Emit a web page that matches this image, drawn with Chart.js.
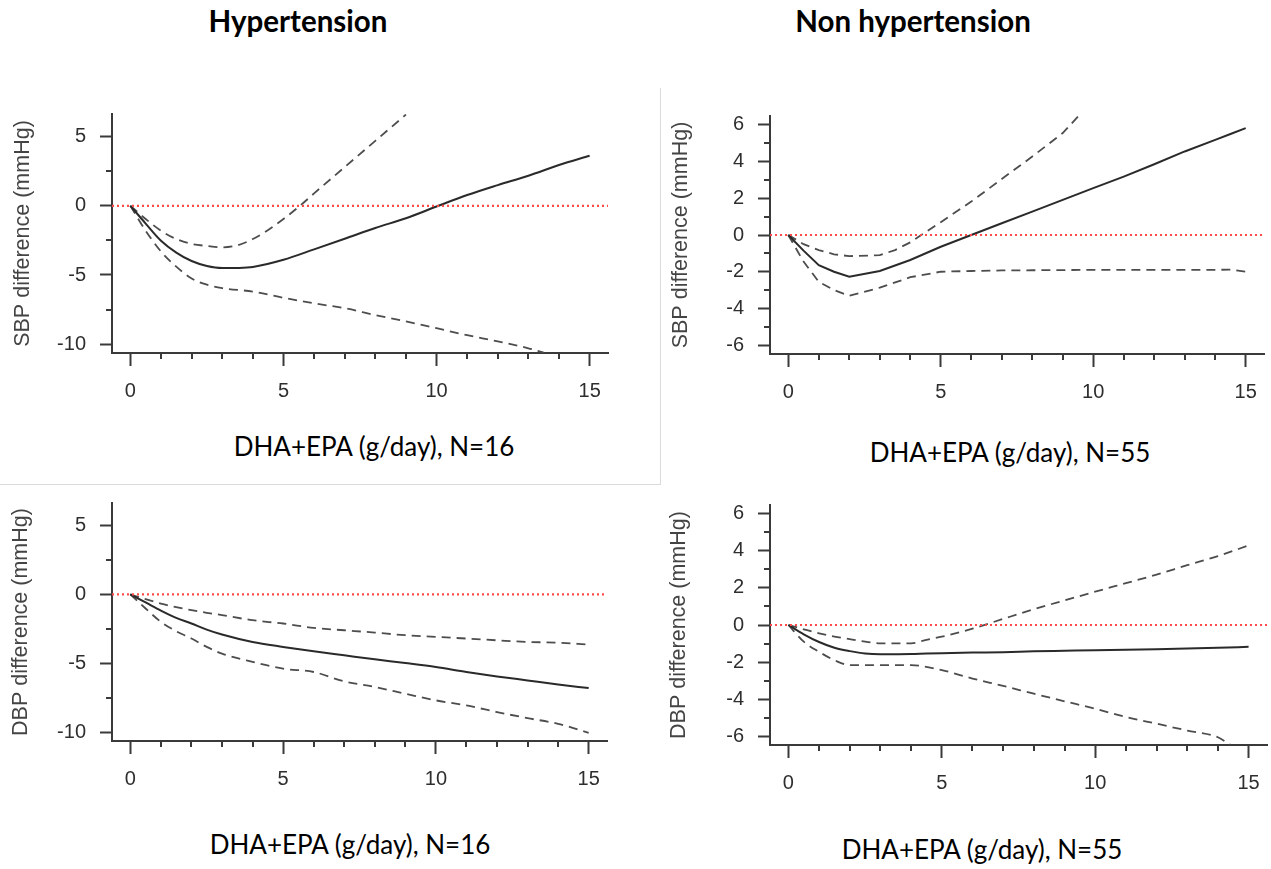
<!DOCTYPE html>
<html>
<head>
<meta charset="utf-8">
<title>DHA+EPA dose and blood pressure difference</title>
<script src="https://cdn.jsdelivr.net/npm/chart.js@4.4.1/dist/chart.umd.min.js"></script>
<style>
  html, body { margin: 0; padding: 0; background: #ffffff; }
  #figure { position: relative; width: 1271px; height: 869px; overflow: hidden; background: #ffffff; }
  .panel { position: absolute; }
  .frame { position: absolute; left: 0; top: 88px; width: 661px; height: 397px; box-sizing: border-box;
           border-right: 1px solid #dadada; border-bottom: 1px solid #dadada; }
  .group-title { position: absolute; width: 400px; text-align: center; white-space: nowrap;
                 font-family: Lato, "Open Sans", sans-serif; font-weight: 700; font-size: 29.5px;
                 line-height: 1.2; color: #000; }
  .dose-title { position: absolute; width: 400px; text-align: center; white-space: nowrap;
                font-family: Lato, "Open Sans", sans-serif; font-weight: 400; font-size: 26px;
                line-height: 1.2; color: #000; }
</style>
</head>
<body>
<div id="figure">
  <div class="frame"></div>

  <div class="group-title" style="left:98px; top:3px;">Hypertension</div>
  <div class="group-title" style="left:713px; top:3px;">Non hypertension</div>

  <div class="panel" style="left:0px; top:100px;"><canvas id="sbpHyp" width="640" height="300"></canvas></div>
  <div class="panel" style="left:660px; top:100px;"><canvas id="sbpNon" width="611" height="300"></canvas></div>
  <div class="panel" style="left:0px; top:490px;"><canvas id="dbpHyp" width="640" height="300"></canvas></div>
  <div class="panel" style="left:660px; top:490px;"><canvas id="dbpNon" width="611" height="300"></canvas></div>

  <div class="dose-title" style="left:174px; top:431px;">DHA+EPA (g/day), N=16</div>
  <div class="dose-title" style="left:810px; top:437px;">DHA+EPA (g/day), N=55</div>
  <div class="dose-title" style="left:150px; top:829px;">DHA+EPA (g/day), N=16</div>
  <div class="dose-title" style="left:782px; top:834px;">DHA+EPA (g/day), N=55</div>
</div>

<script>
// ---- Axis settings -------------------------------------------------------
const doseLimits = [-0.6, 15.6];          // g/day
const doseTickStep = 1;
const doseLabelStep = 5;
const hypBpLimits = [-10.64, 6.64];       // mmHg, hypertension panels
const hypBpTickStep = 2.5;
const hypBpLabelStep = 5;
const nonBpLimits = [-6.48, 6.48];        // mmHg, non hypertension panels
const nonBpTickStep = 1;
const nonBpLabelStep = 2;
const referenceLevel = 0;                 // no difference

// ---- SBP, hypertension (N=16) --------------------------------------------
const sbpHypDose  = [0, 0.5, 1, 1.5, 2, 2.5, 3, 3.5, 4, 5, 6, 7, 8, 9, 10, 11, 12, 13, 14, 15];
const sbpHypFit   = [0, -1.28, -2.52, -3.38, -3.99, -4.35, -4.5, -4.49, -4.42, -3.9, -3.15, -2.38, -1.6, -0.9, -0.05, 0.78, 1.5, 2.18, 2.95, 3.62];
const sbpHypUpperDose = [0, 0.5, 1, 1.5, 2, 2.5, 3, 3.5, 4, 4.5, 5, 5.5, 6, 7, 8, 9];
const sbpHypUpper     = [0, -0.95, -1.8, -2.4, -2.75, -2.9, -3.0, -2.85, -2.4, -1.75, -0.95, -0.07, 0.9, 2.8, 4.7, 6.6];
const sbpHypLowerDose = [0, 0.5, 1, 1.5, 2, 2.5, 3, 4, 5, 6, 7, 8, 9, 10, 11, 12, 13, 13.5];
const sbpHypLower     = [0, -1.8, -3.3, -4.4, -5.25, -5.7, -5.95, -6.2, -6.65, -7.05, -7.4, -7.9, -8.35, -8.85, -9.35, -9.8, -10.3, -10.62];

// ---- SBP, non hypertension (N=55) ----------------------------------------
const sbpNonDose  = [0, 0.5, 1, 1.5, 2, 3, 4, 5, 6, 7, 8, 9, 10, 11, 12, 13, 14, 14.5, 15];
const sbpNonFit   = [0, -0.85, -1.64, -2.0, -2.27, -1.96, -1.36, -0.64, 0.0, 0.64, 1.27, 1.91, 2.55, 3.18, 3.85, 4.55, 5.18, 5.5, 5.82];
const sbpNonLower = [0, -1.45, -2.55, -3.0, -3.31, -2.87, -2.3, -2.0, -1.96, -1.93, -1.92, -1.91, -1.9, -1.9, -1.9, -1.9, -1.9, -1.88, -2.0];
const sbpNonUpperDose = [0, 0.5, 1, 1.5, 2, 3, 3.5, 4, 5, 6, 7, 8, 9, 9.5];
const sbpNonUpper     = [0, -0.5, -0.82, -1.05, -1.15, -1.1, -0.82, -0.4, 0.7, 1.82, 3.05, 4.27, 5.55, 6.45];

// ---- DBP, hypertension (N=16) --------------------------------------------
const dbpHypDose  = [0, 0.5, 1, 1.5, 2, 2.5, 3, 4, 5, 6, 7, 8, 9, 10, 11, 12, 13, 14, 15];
const dbpHypFit   = [0, -0.58, -1.17, -1.7, -2.11, -2.55, -2.91, -3.45, -3.81, -4.13, -4.42, -4.71, -4.98, -5.27, -5.63, -5.95, -6.24, -6.53, -6.8];
const dbpHypUpper = [0, -0.34, -0.66, -0.92, -1.14, -1.33, -1.5, -1.87, -2.11, -2.43, -2.6, -2.77, -2.96, -3.08, -3.2, -3.33, -3.45, -3.5, -3.64];
const dbpHypLower = [0, -1.02, -1.99, -2.67, -3.2, -3.81, -4.3, -4.9, -5.39, -5.63, -6.31, -6.72, -7.21, -7.69, -8.06, -8.54, -8.98, -9.39, -10.05];

// ---- DBP, non hypertension (N=55) ----------------------------------------
const dbpNonDose  = [0, 0.5, 1, 1.5, 2, 2.5, 3, 4, 4.5, 5, 6, 7, 8, 9, 10, 11, 12, 13, 14, 15];
const dbpNonFit   = [0, -0.5, -0.92, -1.23, -1.41, -1.54, -1.58, -1.57, -1.54, -1.52, -1.49, -1.47, -1.42, -1.39, -1.36, -1.34, -1.31, -1.27, -1.23, -1.18];
const dbpNonUpper = [0, -0.23, -0.45, -0.63, -0.76, -0.9, -0.99, -0.99, -0.8, -0.63, -0.2, 0.33, 0.85, 1.33, 1.8, 2.26, 2.72, 3.23, 3.72, 4.3];
const dbpNonLowerDose = [0, 0.5, 1, 1.5, 2, 3, 4, 5, 6, 7, 8, 9, 10, 11, 12, 13, 14, 14.4];
const dbpNonLower     = [0, -0.9, -1.45, -1.9, -2.17, -2.17, -2.17, -2.44, -2.89, -3.29, -3.71, -4.12, -4.52, -4.97, -5.33, -5.7, -6.06, -6.47];

// ---- Styling ---------------------------------------------------------------
const axisColor = '#3a3a3a';
const labelColor = '#2e2e2e';
const fitColor = '#2a2a2a';
const ciColor = '#4d4d4d';
const refColor = '#ff4a4a';
const tickFont = { family: '"Liberation Sans", Arial, sans-serif', size: 20 };
const axisTitleFont = { family: '"Liberation Sans", Arial, sans-serif', size: 21.5 };

const isMultiple = (v, step) => Math.abs(v / step - Math.round(v / step)) < 1e-6;
const pairs = (xs, ys) => xs.map((x, i) => ({ x: x, y: ys[i] }));

// Short unlabelled ticks between the labelled ones
const minorTicks = {
  id: 'minorTicks',
  afterDraw(chart, args, opts) {
    const ctx = chart.ctx;
    ctx.save();
    ctx.strokeStyle = axisColor;
    ctx.lineWidth = 2;
    ctx.beginPath();
    const xs = chart.scales.x;
    xs.ticks.forEach(t => {
      if (!isMultiple(t.value, opts.xLabelStep)) {
        const px = Math.round(xs.getPixelForValue(t.value));
        ctx.moveTo(px, xs.top);
        ctx.lineTo(px, xs.top + opts.length);
      }
    });
    const ys = chart.scales.y;
    ys.ticks.forEach(t => {
      if (!isMultiple(t.value, opts.yLabelStep)) {
        const py = Math.round(ys.getPixelForValue(t.value));
        ctx.moveTo(ys.right - opts.length, py);
        ctx.lineTo(ys.right, py);
      }
    });
    ctx.stroke();
    ctx.restore();
  }
};

function drawPanel(id, p) {
  const canvas = document.getElementById(id);
  const curve = p.smooth ? { cubicInterpolationMode: 'monotone' } : { tension: 0 };
  return new Chart(canvas, {
    type: 'line',
    data: {
      datasets: [
        { data: [{ x: doseLimits[0], y: referenceLevel }, { x: doseLimits[1], y: referenceLevel }],
          borderColor: refColor, borderWidth: 2.2, borderDash: [2, 3], pointRadius: 0, tension: 0 },
        Object.assign({ data: pairs(p.fitDose, p.fit), borderColor: fitColor, borderWidth: 2, pointRadius: 0 }, curve),
        Object.assign({ data: pairs(p.upperDose, p.upper), borderColor: ciColor, borderWidth: 1.8, borderDash: [9, 6], pointRadius: 0 }, curve),
        Object.assign({ data: pairs(p.lowerDose, p.lower), borderColor: ciColor, borderWidth: 1.8, borderDash: [9, 6], pointRadius: 0 }, curve)
      ]
    },
    options: {
      responsive: false,
      animation: false,
      events: [],
      layout: { padding: { top: p.padTop, right: p.padRight, bottom: 0, left: 0 } },
      plugins: {
        legend: { display: false },
        tooltip: { enabled: false },
        minorTicks: { xLabelStep: doseLabelStep, yLabelStep: p.yLabelStep, length: 6 }
      },
      scales: {
        x: {
          type: 'linear',
          min: doseLimits[0],
          max: doseLimits[1],
          border: { display: true, color: axisColor, width: 2 },
          grid: {
            drawOnChartArea: false, drawTicks: true, tickLength: 13, tickWidth: 2,
            tickColor: c => (c.tick && isMultiple(c.tick.value, doseLabelStep)) ? axisColor : 'rgba(0,0,0,0)'
          },
          ticks: {
            stepSize: doseTickStep, includeBounds: false, autoSkip: false, maxRotation: 0,
            padding: 13, color: labelColor, font: tickFont,
            callback: v => isMultiple(v, doseLabelStep) ? String(v) : ''
          },
          afterFit: s => { s.height = p.xHeight; s.paddingLeft = 0; s.paddingRight = 0; }
        },
        y: {
          type: 'linear',
          min: p.yLimits[0],
          max: p.yLimits[1],
          border: { display: true, color: axisColor, width: 2 },
          grid: {
            drawOnChartArea: false, drawTicks: true, tickLength: 12, tickWidth: 2,
            tickColor: c => (c.tick && isMultiple(c.tick.value, p.yLabelStep)) ? axisColor : 'rgba(0,0,0,0)'
          },
          ticks: {
            stepSize: p.yTickStep, includeBounds: false, autoSkip: false,
            padding: 14, color: labelColor, font: tickFont,
            callback: v => isMultiple(v, p.yLabelStep) ? String(v) : ''
          },
          title: {
            display: true, text: p.yTitle, color: '#444444', font: axisTitleFont,
            padding: { top: p.titlePad, bottom: 0 }
          },
          afterFit: s => { s.width = p.yWidth; s.paddingTop = 0; s.paddingBottom = 0; }
        }
      }
    },
    plugins: [minorTicks]
  });
}

drawPanel('sbpHyp', {
  fitDose: sbpHypDose, fit: sbpHypFit,
  upperDose: sbpHypUpperDose, upper: sbpHypUpper,
  lowerDose: sbpHypLowerDose, lower: sbpHypLower,
  yLimits: hypBpLimits, yTickStep: hypBpTickStep, yLabelStep: hypBpLabelStep,
  yTitle: 'SBP difference (mmHg)', smooth: true,
  padTop: 14, padRight: 32, yWidth: 112, xHeight: 47, titlePad: 10
});

drawPanel('sbpNon', {
  fitDose: sbpNonDose, fit: sbpNonFit,
  upperDose: sbpNonUpperDose, upper: sbpNonUpper,
  lowerDose: sbpNonDose, lower: sbpNonLower,
  yLimits: nonBpLimits, yTickStep: nonBpTickStep, yLabelStep: nonBpLabelStep,
  yTitle: 'SBP difference (mmHg)', smooth: false,
  padTop: 16, padRight: 7, yWidth: 110, xHeight: 46, titlePad: 8
});

drawPanel('dbpHyp', {
  fitDose: dbpHypDose, fit: dbpHypFit,
  upperDose: dbpHypDose, upper: dbpHypUpper,
  lowerDose: dbpHypDose, lower: dbpHypLower,
  yLimits: hypBpLimits, yTickStep: hypBpTickStep, yLabelStep: hypBpLabelStep,
  yTitle: 'DBP difference (mmHg)', smooth: true,
  padTop: 13, padRight: 33, yWidth: 112, xHeight: 49, titlePad: 8
});

drawPanel('dbpNon', {
  fitDose: dbpNonDose, fit: dbpNonFit,
  upperDose: dbpNonDose, upper: dbpNonUpper,
  lowerDose: dbpNonLowerDose, lower: dbpNonLower,
  yLimits: nonBpLimits, yTickStep: nonBpTickStep, yLabelStep: nonBpLabelStep,
  yTitle: 'DBP difference (mmHg)', smooth: true,
  padTop: 15, padRight: 4, yWidth: 110, xHeight: 45, titlePad: 6
});
</script>
</body>
</html>
